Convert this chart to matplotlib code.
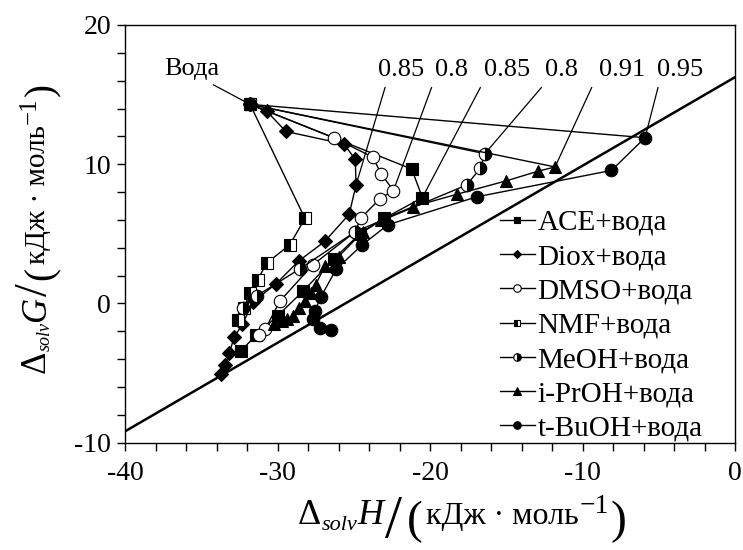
import matplotlib
matplotlib.use('Agg')
import matplotlib.pyplot as plt
from matplotlib.transforms import IdentityTransform

# solvation enthalpy (x) and Gibbs energy (y) along each water+cosolvent series, kJ/mol
ace_h = [-31.8, -21.2, -20.5, -23.0, -24.6, -26.3, -28.3, -30.0, -31.4, -32.4]
ace_g = [14.3, 9.65, 7.6, 6.1, 5.0, 3.2, 0.9, -0.9, -2.3, -3.4]

diox_h = [-31.8, -30.7, -29.45, -25.65, -24.9, -24.85, -25.3, -26.9, -28.6, -30.1,
          -31.6, -32.3, -32.85, -33.15, -33.45, -33.7]
diox_g = [14.3, 13.8, 12.35, 11.45, 10.35, 8.5, 6.4, 4.45, 3.05, 1.4,
          0.1, -1.5, -2.45, -3.55, -4.45, -5.05]

dmso_h = [-31.8, -26.3, -23.75, -23.2, -22.4, -23.3, -24.55, -24.9, -27.7, -29.85, -30.8, -31.2]
dmso_g = [14.3, 11.9, 10.5, 9.3, 8.1, 7.5, 6.1, 5.15, 2.75, 0.15, -1.85, -2.3]

nmf_h = [-31.8, -28.2, -29.2, -30.7, -31.3, -31.8, -32.2, -32.6]
nmf_g = [14.3, 6.1, 4.2, 2.9, 1.7, 0.75, -0.3, -1.2]

meoh_h = [-31.8, -16.4, -16.7, -17.6, -24.9, -28.5, -31.35, -32.25]
meoh_g = [14.3, 10.75, 9.7, 8.5, 5.15, 2.5, 0.55, -0.35]

ipr_h = [-31.8, -11.8, -12.9, -15.0, -18.2, -21.1, -23.2, -24.4, -26.0, -26.9,
         -27.5, -27.8, -28.2, -28.6, -29.0, -29.4, -29.7, -30.2]
ipr_g = [14.3, 9.8, 9.5, 8.8, 7.85, 6.95, 6.0, 5.15, 3.35, 2.65,
         1.35, 0.75, 0.2, -0.3, -0.9, -1.15, -1.3, -1.45]

tbu_h = [-31.8, -5.9, -8.1, -16.95, -22.75, -24.45, -26.15, -27.15, -27.55, -27.65, -27.2, -26.5]
tbu_g = [14.3, 11.9, 9.55, 7.65, 5.65, 4.2, 2.45, 0.48, -0.58, -1.15, -1.75, -1.95]

# straight reference line
ref_h = [-40, 0]
ref_g = [-9.2, 16.25]

# water mole fraction marked at the turning point of each series
peak_labels = ['0.85', '0.8', '0.85', '0.8', '0.91', '0.95']
peak_h = [diox_h[5], dmso_h[4], ace_h[2], meoh_h[1], ipr_h[1], tbu_h[1]]
peak_g = [diox_g[5], dmso_g[4], ace_g[2], meoh_g[1], ipr_g[1], tbu_g[1]]
label_x = [-21.9, -18.6, -14.95, -11.35, -7.4, -3.6]
lead_x = [-22.95, -19.9, -16.7, -12.7, -9.4, -5.05]

plt.rcParams['font.family'] = ['Liberation Serif', 'DejaVu Serif']
plt.rcParams['axes.unicode_minus'] = False

fig = plt.figure(figsize=(7.43, 5.5), dpi=100)
ax = fig.add_axes([125 / 743, 107.5 / 550, 610 / 743, 417.5 / 550])

ax.plot(ref_h, ref_g, color='black', lw=1.8, zorder=1)

series = [
    (ace_h, ace_g, 'ACE+вода', dict(marker='s', ms=8, mfc='black')),
    (diox_h, diox_g, 'Diox+вода', dict(marker='D', ms=7.5, mfc='black')),
    (dmso_h, dmso_g, 'DMSO+вода', dict(marker='o', ms=9, mfc='white')),
    (nmf_h, nmf_g, 'NMF+вода', dict(marker='s', ms=8, mfc='black', fillstyle='left',
                                    markerfacecoloralt='white')),
    (meoh_h, meoh_g, 'MeOH+вода', dict(marker='o', ms=9, mfc='black', fillstyle='right',
                                       markerfacecoloralt='white')),
    (ipr_h, ipr_g, 'i-PrOH+вода', dict(marker='^', ms=9, mfc='black')),
    (tbu_h, tbu_g, 't-BuOH+вода', dict(marker='o', ms=9, mfc='black')),
]
for h, g, name, st in series:
    ax.plot(h, g, color='black', lw=1.0, mec='black', mew=0.8, label=name, zorder=3, **st)

# leaders and labels for the turning points
for lab, lx, sx, ph, pg in zip(peak_labels, label_x, lead_x, peak_h, peak_g):
    ax.text(lx, 16.8, lab, fontsize=19, ha='center', va='center')
    ax.plot([sx, ph], [15.5, pg], color='black', lw=0.9, zorder=2)

ax.text(-35.6, 16.85, 'Вода', fontsize=19, ha='center', va='center')
ax.plot([-34.2, ace_h[0]], [15.7, ace_g[0]], color='black', lw=0.9, zorder=2)

ax.set_xlim(-40, 0)
ax.set_ylim(-10, 20)
ax.set_xticks([-40, -30, -20, -10, 0])
ax.set_yticks([-10, 0, 10, 20])
ax.set_xticks(range(-40, 1, 2), minor=True)
ax.set_yticks(range(-10, 21, 2), minor=True)
ax.tick_params(which='both', direction='out', length=6, width=1)
ax.tick_params(labelsize=20)
ax.tick_params(axis='x', pad=7)
ax.tick_params(axis='y', pad=4)
for s in ax.spines.values():
    s.set_linewidth(1.0)

ax.legend(loc='lower right', bbox_to_anchor=(0.952, -0.005), frameon=False, fontsize=21,
          handlelength=1.2, handletextpad=0.1, labelspacing=0.27, markerscale=0.6,
          borderpad=0.1, borderaxespad=0)


# axis titles built from pieces so the slash and brackets can be large.
# each piece: text, size, shift below the baseline (px), gap after the previous
# piece (px; for the first piece its start, px from figure left / top), italic
def place_label(pieces, base, vertical=False):
    r = fig.canvas.get_renderer()
    pos = None
    for txt, size, shift, gap, italic in pieces:
        style = 'italic' if italic else 'normal'
        if vertical:
            y = 550 - gap if pos is None else pos + gap
            t = fig.text(base + shift, y, txt, fontsize=size, style=style, rotation=90,
                         rotation_mode='anchor', ha='left', va='baseline',
                         transform=IdentityTransform())
            pos = t.get_window_extent(r).y1
        else:
            x = gap if pos is None else pos + gap
            t = fig.text(x, 550 - base - shift, txt, fontsize=size, style=style, ha='left',
                         va='baseline', transform=IdentityTransform())
            pos = t.get_window_extent(r).x1


xlab = [('Δ', 26, 0, 298, False), ('solv', 16, 6, 0, True), ('H', 26, 0, 0, True),
        ('/', 44, 13, 2, False), ('(', 34, 9, 5, False),
        ('кДж · моль', 23, 0, 3, False), ('−1', 20, -11, 1, False),
        (')', 34, 9, 1, False)]
ylab = [('Δ', 25, 0, 373, False), ('solv', 13, 5, 0, True), ('G', 25, 0, 0, True),
        ('/', 33, 2, 1, False), ('(', 28, 7, 3, False),
        ('кДж · моль', 21, 0, 3, False), ('−1', 18, -9, 1, False),
        (')', 28, 7, 1, False)]
place_label(xlab, 524)
place_label(ylab, 45, vertical=True)

fig.savefig('out.png', dpi=100)
